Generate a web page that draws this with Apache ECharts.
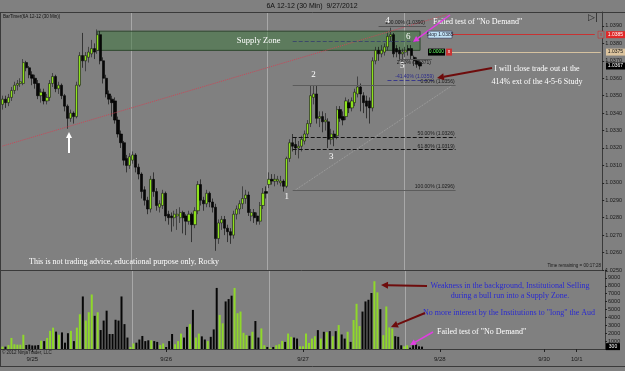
<!DOCTYPE html>
<html>
<head>
<meta charset="utf-8">
<script src="https://cdn.jsdelivr.net/npm/echarts@6/dist/echarts.min.js"></script>
<style>
  html, body { margin: 0; padding: 0; background: #808080; }
  #chart { width: 625px; height: 371px; }
</style>
</head>
<body>
<div id="chart"></div>
<script>
// 6A 12-12 (30 Min) bars, 9/25 .. 9/27/2012
const open = [
  1.0345,1.0348,1.0346,1.0349,1.0353,1.0356,1.0357,1.0357,1.0369,1.0366,
  1.0362,1.0360,1.0357,1.0350,1.0352,1.0347,1.0349,1.0357,1.0361,1.0354,
  1.0356,1.0350,1.0344,1.0337,1.0340,1.0338,1.0356,1.0373,1.0370,1.0372,
  1.0374,1.0377,1.0376,1.0385,1.0370,1.0360,1.0351,1.0348,1.0347,1.0336,
  1.0328,1.0323,1.0314,1.0310,1.0313,1.0316,1.0309,1.0305,1.0296,1.0290,
  1.0285,1.0302,1.0295,1.0286,1.0287,1.0294,1.0282,1.0281,1.0280,1.0281,
  1.0280,1.0283,1.0281,1.0278,1.0282,1.0276,1.0284,1.0299,1.0290,1.0288,
  1.0294,1.0289,1.0286,1.0268,1.0277,1.0279,1.0274,1.0272,1.0270,1.0282,
  1.0285,1.0288,1.0291,1.0293,1.0281,1.0283,1.0281,1.0278,1.0287,1.0295,
  1.0299,1.0302,1.0301,1.0301,1.0300,1.0301,1.0298,1.0314,1.0323,1.0322,
  1.0320,1.0321,1.0324,1.0328,1.0334,1.0349,1.0351,1.0337,1.0338,1.0335,
  1.0335,1.0325,1.0328,1.0327,1.0342,1.0338,1.0338,1.0346,1.0343,1.0346,
  1.0351,1.0355,1.0350,1.0347,1.0347,1.0343,1.0370,1.0376,1.0374,1.0375,
  1.0378,1.0384,1.0385,1.0377,1.0376,1.0374,1.0375,1.0377,1.0377,1.0372,
  1.0370,1.0369
];
const close = [
  1.0348,1.0346,1.0349,1.0353,1.0356,1.0357,1.0358,1.0369,1.0366,1.0362,
  1.0360,1.0357,1.0350,1.0352,1.0347,1.0349,1.0357,1.0361,1.0354,1.0356,
  1.0350,1.0344,1.0337,1.0340,1.0338,1.0356,1.0373,1.0370,1.0373,1.0375,
  1.0377,1.0375,1.0385,1.0370,1.0360,1.0351,1.0348,1.0346,1.0336,1.0328,
  1.0323,1.0313,1.0310,1.0315,1.0316,1.0309,1.0305,1.0295,1.0290,1.0285,
  1.0302,1.0295,1.0287,1.0288,1.0294,1.0281,1.0280,1.0280,1.0282,1.0282,
  1.0283,1.0280,1.0278,1.0282,1.0276,1.0284,1.0299,1.0290,1.0288,1.0294,
  1.0289,1.0286,1.0268,1.0277,1.0279,1.0274,1.0272,1.0270,1.0282,1.0285,
  1.0288,1.0291,1.0293,1.0283,1.0283,1.0280,1.0278,1.0287,1.0294,1.0294,
  1.0302,1.0301,1.0302,1.0302,1.0301,1.0298,1.0314,1.0323,1.0321,1.0320,
  1.0321,1.0325,1.0328,1.0334,1.0350,1.0351,1.0337,1.0338,1.0335,1.0336,
  1.0325,1.0328,1.0326,1.0342,1.0337,1.0336,1.0347,1.0343,1.0347,1.0352,
  1.0355,1.0351,1.0346,1.0344,1.0343,1.0370,1.0376,1.0374,1.0376,1.0378,
  1.0384,1.0385,1.0374,1.0375,1.0374,1.0375,1.0376,1.0376,1.0373,1.0370,
  1.0368,1.0367
];
const low = [
  1.0342,1.0343,1.0344,1.0347,1.0351,1.0353,1.0355,1.0356,1.0364,1.0360,
  1.0356,1.0354,1.0348,1.0346,1.0345,1.0345,1.0347,1.0355,1.0352,1.0351,
  1.0348,1.0341,1.0331,1.0335,1.0334,1.0337,1.0355,1.0366,1.0364,1.0369,
  1.0372,1.0371,1.0374,1.0368,1.0357,1.0349,1.0345,1.0338,1.0334,1.0326,
  1.0320,1.0310,1.0306,1.0308,1.0311,1.0306,1.0302,1.0291,1.0287,1.0282,
  1.0283,1.0292,1.0284,1.0283,1.0285,1.0278,1.0276,1.0272,1.0275,1.0273,
  1.0277,1.0271,1.0270,1.0276,1.0266,1.0274,1.0282,1.0287,1.0284,1.0286,
  1.0286,1.0283,1.0261,1.0265,1.0273,1.0270,1.0266,1.0265,1.0268,1.0279,
  1.0282,1.0285,1.0288,1.0281,1.0278,1.0277,1.0276,1.0276,1.0285,1.0291,
  1.0297,1.0299,1.0298,1.0299,1.0298,1.0295,1.0297,1.0312,1.0318,1.0316,
  1.0314,1.0318,1.0322,1.0326,1.0332,1.0345,1.0334,1.0332,1.0329,1.0330,
  1.0320,1.0322,1.0321,1.0325,1.0335,1.0333,1.0336,1.0340,1.0341,1.0344,
  1.0349,1.0341,1.0340,1.0337,1.0334,1.0341,1.0368,1.0370,1.0372,1.0373,
  1.0376,1.0381,1.0372,1.0372,1.0370,1.0371,1.0372,1.0373,1.0371,1.0367,
  1.0366,1.0365
];
const high = [
  1.0350,1.0350,1.0351,1.0355,1.0358,1.0359,1.0360,1.0371,1.0370,1.0367,
  1.0364,1.0362,1.0359,1.0354,1.0354,1.0351,1.0359,1.0363,1.0362,1.0358,
  1.0357,1.0351,1.0345,1.0342,1.0341,1.0358,1.0375,1.0386,1.0375,1.0378,
  1.0382,1.0380,1.0388,1.0387,1.0372,1.0362,1.0353,1.0350,1.0349,1.0338,
  1.0330,1.0324,1.0316,1.0317,1.0318,1.0317,1.0311,1.0306,1.0298,1.0292,
  1.0304,1.0306,1.0297,1.0290,1.0296,1.0295,1.0284,1.0283,1.0284,1.0285,
  1.0286,1.0284,1.0282,1.0284,1.0283,1.0286,1.0301,1.0302,1.0292,1.0296,
  1.0295,1.0291,1.0288,1.0279,1.0281,1.0281,1.0276,1.0274,1.0284,1.0287,
  1.0290,1.0298,1.0296,1.0295,1.0285,1.0285,1.0283,1.0289,1.0297,1.0298,
  1.0306,1.0305,1.0305,1.0304,1.0304,1.0302,1.0315,1.0325,1.0328,1.0326,
  1.0324,1.0327,1.0330,1.0336,1.0356,1.0356,1.0356,1.0341,1.0341,1.0340,
  1.0337,1.0331,1.0330,1.0344,1.0344,1.0341,1.0349,1.0348,1.0349,1.0354,
  1.0361,1.0357,1.0352,1.0350,1.0349,1.0372,1.0378,1.0378,1.0379,1.0380,
  1.0386,1.0389,1.0386,1.0379,1.0378,1.0377,1.0378,1.0379,1.0379,1.0373,
  1.0372,1.0370
];
const volume = [
  300,300,500,1400,600,550,550,1800,500,550,
  450,450,500,1050,1000,1400,2300,2700,2200,1800,
  2100,800,2000,2300,1000,2700,4400,6650,3600,4650,
  6900,4200,4650,2400,3600,4850,1900,1900,3700,3600,
  6650,3150,1450,250,700,800,1200,1650,1000,1100,
  1100,1000,900,500,700,250,1000,1900,600,1000,
  1950,1450,2800,3150,4950,1450,1950,1600,1200,1000,
  1540,2480,7730,4310,3250,6020,6320,6750,7730,4530,
  4740,2050,1750,1670,2180,3540,1450,2600,470,260,
  170,260,470,600,1020,900,1960,1540,1450,1320,
  340,340,1960,770,1320,1620,2390,1320,2180,2130,
  2260,1620,2260,3030,1840,1320,2180,900,3670,5720,
  2900,4740,6020,6230,7090,8580,7170,5040,1750,5380,
  2730,2600,1620,1540,470,340,470,170,470,600,
  340,300
];

// x axis: 203 bar slots, date labels and session breaks
const slotCount = 203;
const dayLabels = ['9/25', '9/26', '9/27', '9/28', '9/30', '10/1'];
const dayLabelIdx = [10, 55, 101, 147, 182, 193];
const sessionBreaks = [44, 90, 136];

// supply zone and study levels
const supplyZone = [[32, 1.0387], [141, 1.0376]];
const trendLine = [[0, 1.03211], [150, 1.03965]];
const fibPct = ['0.00%', '50.00%', '61.80%', '100.00%'];
const fibPrice = [1.0356, 1.0326, 1.0319, 1.0296];
const fibSpan = [98, 153];
const studyPct = ['-41.40%', '100.00%', '2.00%'];
const studyPrice = [1.0359, 1.0390, 1.0371];
const studySpan = [[130, 146], [127, 143], [134, 145]];
const stopPrice = 1.0385;
const entryPrice = 1.0375;
const orderSpan = [151, 200];
const waveNames = ['1', '2', '3', '4', '5', '6'];
const waveIdx = [96, 105, 111, 130, 135, 137];
const wavePrice = [1.0292, 1.0362, 1.0315, 1.0393, 1.0367, 1.0384];

const UP = '#8ee31b';
const UP_VOL = '#8fd82a';
const DOWN = '#070707';
const SERIF = '"Liberation Serif", "Times New Roman", serif';
const SANS = '"Liberation Sans", Arial, sans-serif';

const categories = [];
for (let i = 0; i < slotCount; i++) {
  const k = dayLabelIdx.indexOf(i);
  categories.push(k >= 0 ? dayLabels[k] : '');
}

const candles = open.map((o, i) => [o, close[i], low[i], high[i]]);
const volBars = volume.map((v, i) => ({
  value: v,
  itemStyle: { color: close[i] >= open[i] ? UP_VOL : DOWN }
}));

const chart = echarts.init(document.getElementById('chart'));

const hline = (a, b, v, style, label) => [
  { coord: [a, v], lineStyle: style, label: label || { show: false } },
  { coord: [b, v] }
];

const fibLines = fibPrice.map((v, k) => hline(fibSpan[0], fibSpan[1], v,
  { color: k === 1 || k === 2 ? '#111' : '#5c5c5c', type: k === 1 || k === 2 ? 'dashed' : 'solid', width: 1 },
  { show: true, position: 'insideEndTop', distance: 1, fontSize: 5, color: '#1a1a1a', fontFamily: SANS,
    formatter: fibPct[k] + ' (' + v.toFixed(4) + ')' }));

const studyLines = studyPrice.map((v, k) => hline(studySpan[k][0], studySpan[k][1], v,
  { color: k === 0 ? '#3a3a8a' : '#555', type: k === 0 ? 'dashed' : 'solid', width: 1 },
  { show: true, position: k === 2 ? 'insideEndBottom' : 'insideEndTop', distance: 1, fontSize: 5,
    color: k === 0 ? '#2a2a8a' : '#1a1a1a', fontFamily: SANS,
    formatter: studyPct[k] + ' (' + v.toFixed(4) + ')' }));

const option = {
  backgroundColor: '#808080',
  animation: false,
  grid: [
    { left: 1, right: 20, top: 12, height: 258 },
    { left: 1, right: 20, top: 270, height: 79 }
  ],
  xAxis: [
    {
      type: 'category', gridIndex: 0, data: categories,
      axisLine: { show: true, lineStyle: { color: '#3a3a3a' } },
      axisTick: { show: false }, axisLabel: { show: false },
      splitLine: { show: true, interval: (i) => sessionBreaks.includes(i), lineStyle: { color: '#a8a8a8', width: 1 } }
    },
    {
      type: 'category', gridIndex: 1, data: categories,
      axisLine: { show: true, lineStyle: { color: '#3a3a3a' } },
      axisTick: { show: true, alignWithLabel: true, length: 3, interval: (i, v) => v !== '', lineStyle: { color: '#222' } },
      axisLabel: { show: true, interval: (i, v) => v !== '', fontSize: 6, color: '#1a1a1a', fontFamily: SANS, margin: 7 },
      splitLine: { show: true, interval: (i) => sessionBreaks.includes(i), lineStyle: { color: '#a8a8a8', width: 1 } }
    }
  ],
  yAxis: [
    {
      type: 'value', gridIndex: 0, position: 'right', min: 1.0250, max: 1.0398, interval: 0.001,
      axisLine: { show: true, lineStyle: { color: '#3a3a3a' } },
      axisTick: { show: true, length: 2, lineStyle: { color: '#222' } },
      splitLine: { show: false },
      axisLabel: {
        fontSize: 5.5, color: '#1a1a1a', fontFamily: SANS, margin: 3,
        formatter: (v) => Math.abs(v * 1000 - Math.round(v * 1000)) > 1e-6 ? '' : v.toFixed(4)
      }
    },
    {
      type: 'value', gridIndex: 1, position: 'right', min: 0, max: 10000, interval: 1000,
      axisLine: { show: true, lineStyle: { color: '#3a3a3a' } },
      axisTick: { show: true, length: 2, lineStyle: { color: '#222' } },
      splitLine: { show: false },
      axisLabel: {
        fontSize: 5.5, color: '#1a1a1a', fontFamily: SANS, margin: 3,
        formatter: (v) => (v <= 0 || v >= 10000) ? '' : String(v)
      }
    }
  ],
  series: [
    {
      type: 'candlestick', xAxisIndex: 0, yAxisIndex: 0, data: candles,
      barWidth: 2.7,
      itemStyle: { color: UP, color0: DOWN, borderColor: '#1a1a1a', borderColor0: '#000', borderWidth: 0.6 },
      markArea: {
        silent: true,
        itemStyle: { color: 'rgba(58,118,58,0.5)', borderColor: '#2e472e', borderWidth: 1 },
        label: { show: true, position: 'inside', color: '#fff', fontFamily: SERIF, fontSize: 8.5 },
        data: [[{ name: 'Supply Zone', coord: supplyZone[0] }, { coord: supplyZone[1] }]]
      },
      markLine: {
        silent: true, symbol: ['none', 'none'], animation: false,
        data: [
          [{ coord: trendLine[0], lineStyle: { color: '#c84858', type: 'dotted', width: 1 }, label: { show: false } },
           { coord: trendLine[1] }],
          [{ coord: [fibSpan[0] + 1, fibPrice[3]], lineStyle: { color: '#a2a2a2', type: 'dotted', width: 1 }, label: { show: false } },
           { coord: [fibSpan[1] - 1, fibPrice[0]] }],
          hline(fibSpan[0], 140, 1.0381, { color: '#3c4a6a', type: 'dashed', width: 1 }),
          hline(orderSpan[0], orderSpan[1], stopPrice, { color: '#c83232', type: 'solid', width: 1 }),
          hline(orderSpan[0], orderSpan[1] + 2, entryPrice, { color: '#d6c2a0', type: 'solid', width: 1 })
        ].concat(fibLines, studyLines)
      },
      markPoint: {
        silent: true, symbol: 'circle', symbolSize: 0,
        label: { show: true, position: 'inside', color: '#fff', fontFamily: SERIF, fontSize: 9, formatter: '{b}' },
        data: waveNames.map((n, k) => ({ name: n, coord: [waveIdx[k], wavePrice[k]] }))
      }
    },
    {
      type: 'bar', xAxisIndex: 1, yAxisIndex: 1, data: volBars, barWidth: 2
    }
  ]
};

chart.setOption(option);

// annotation layer (pixel positions)
function arrow(x1, y1, x2, y2, color, width, head) {
  const ang = Math.atan2(y2 - y1, x2 - x1);
  const L = head || 6, W = (head || 6) / 2;
  const bx = x2 - L * Math.cos(ang), by = y2 - L * Math.sin(ang);
  const px = -Math.sin(ang) * W, py = Math.cos(ang) * W;
  return [
    { type: 'line', z: 100, silent: true, shape: { x1: x1, y1: y1, x2: bx, y2: by }, style: { stroke: color, lineWidth: width } },
    { type: 'polygon', z: 100, silent: true, shape: { points: [[x2, y2], [bx + px, by + py], [bx - px, by - py]] }, style: { fill: color } }
  ];
}
function txt(s, x, y, size, fill, family, align) {
  return { type: 'text', z: 100, silent: true, x: x, y: y,
    style: { text: s, fill: fill, font: size + 'px ' + family, textAlign: align || 'left', textVerticalAlign: 'middle' } };
}
function tag(x, y, w, s, bg, fg, stroke) {
  return { type: 'group', z: 101, silent: true, children: [
    { type: 'rect', z: 101, shape: { x: x, y: y - 3.5, width: w, height: 7 }, style: { fill: bg, stroke: stroke || null, lineWidth: 0.6 } },
    { type: 'text', z: 102, x: x + w / 2, y: y, style: { text: s, fill: fg, font: '5px ' + SANS, textAlign: 'center', textVerticalAlign: 'middle' } }
  ] };
}

const py = (v) => chart.convertToPixel({ yAxisIndex: 0 }, v);
const vy = (v) => chart.convertToPixel({ yAxisIndex: 1 }, v);
const lastClose = close[close.length - 1];
const lastVol = volume[volume.length - 1];
const BLUE = '#2a2ad0';
const DARKRED = '#6e0c0c';
const MAGENTA = '#e23ce2';

const graphics = [
  { type: 'line', z: 90, silent: true, shape: { x1: 0, y1: 12.5, x2: 625, y2: 12.5 }, style: { stroke: '#3a3a3a', lineWidth: 1 } },
  { type: 'line', z: 90, silent: true, shape: { x1: 0.5, y1: 12, x2: 0.5, y2: 367 }, style: { stroke: '#3a3a3a', lineWidth: 1 } },
  { type: 'line', z: 90, silent: true, shape: { x1: 0, y1: 366.5, x2: 625, y2: 366.5 }, style: { stroke: '#3a3a3a', lineWidth: 1 } },
  txt('6A 12-12 (30 Min)  9/27/2012', 312, 6, 7, '#111', SANS, 'center'),
  txt('BarTimer(6A 12-12 (30 Min))', 3, 17, 4.5, '#111', SANS),
  txt('\u25B7|', 593, 18, 9, '#222', '"DejaVu Sans", sans-serif', 'center'),
  txt('Failed test of "No Demand"', 433, 22, 8, '#fff', SERIF),
  txt('I will close trade out at the', 537, 69, 8, '#fff', SERIF, 'center'),
  txt('414% ext of the 4-5-6 Study', 537, 82, 8, '#fff', SERIF, 'center'),
  txt('This is not trading advice, educational purpose only, Rocky', 29, 262, 8, '#fff', SERIF),
  txt('Time remaining = 00:17:28', 601, 266, 4.5, '#1a1a1a', SANS, 'right'),
  txt('Weakness in the background, Institutional Selling', 510, 286, 8, BLUE, SERIF, 'center'),
  txt('during a bull run into a Supply Zone.', 510, 296, 8, BLUE, SERIF, 'center'),
  txt('No more interest by the Institutions to "long" the Aud', 509, 313, 8, BLUE, SERIF, 'center'),
  txt('Failed test of "No Demand"', 437, 332, 8, '#fff', SERIF),
  txt('\u00A9 2012 NinjaTrader, LLC', 2, 353, 4.5, '#1a1a1a', SANS),
  tag(428, py(stopPrice), 24, 'Stop 1.0385', '#bfe0f2', '#223', '#335'),
  tag(428, py(entryPrice), 17, '0.0000', '#000', '#6f6'),
  tag(446, py(entryPrice), 6, 'x', '#c83232', '#fff'),
  tag(598, py(stopPrice), 6, 'x', '#808080', '#c83232', '#c83232'),
  tag(606, py(stopPrice), 19, stopPrice.toFixed(4), '#e02828', '#fff'),
  tag(606, py(entryPrice), 19, entryPrice.toFixed(4), '#dcc49e', '#111'),
  tag(606, py(lastClose), 19, lastClose.toFixed(4), '#000', '#fff'),
  tag(606, vy(lastVol), 14, String(lastVol), '#000', '#fff')
].concat(
  arrow(450, 15, 413, 42, MAGENTA, 1.5, 6),
  arrow(492, 68, 437, 78, DARKRED, 2, 7),
  arrow(69, 153, 69, 132, '#fff', 2, 6),
  arrow(427, 286, 381, 285, DARKRED, 2, 7),
  arrow(425, 313, 391, 327, DARKRED, 2, 7),
  arrow(433, 332, 410, 345, MAGENTA, 1.5, 6)
);

chart.setOption({ graphic: graphics });
</script>
</body>
</html>
